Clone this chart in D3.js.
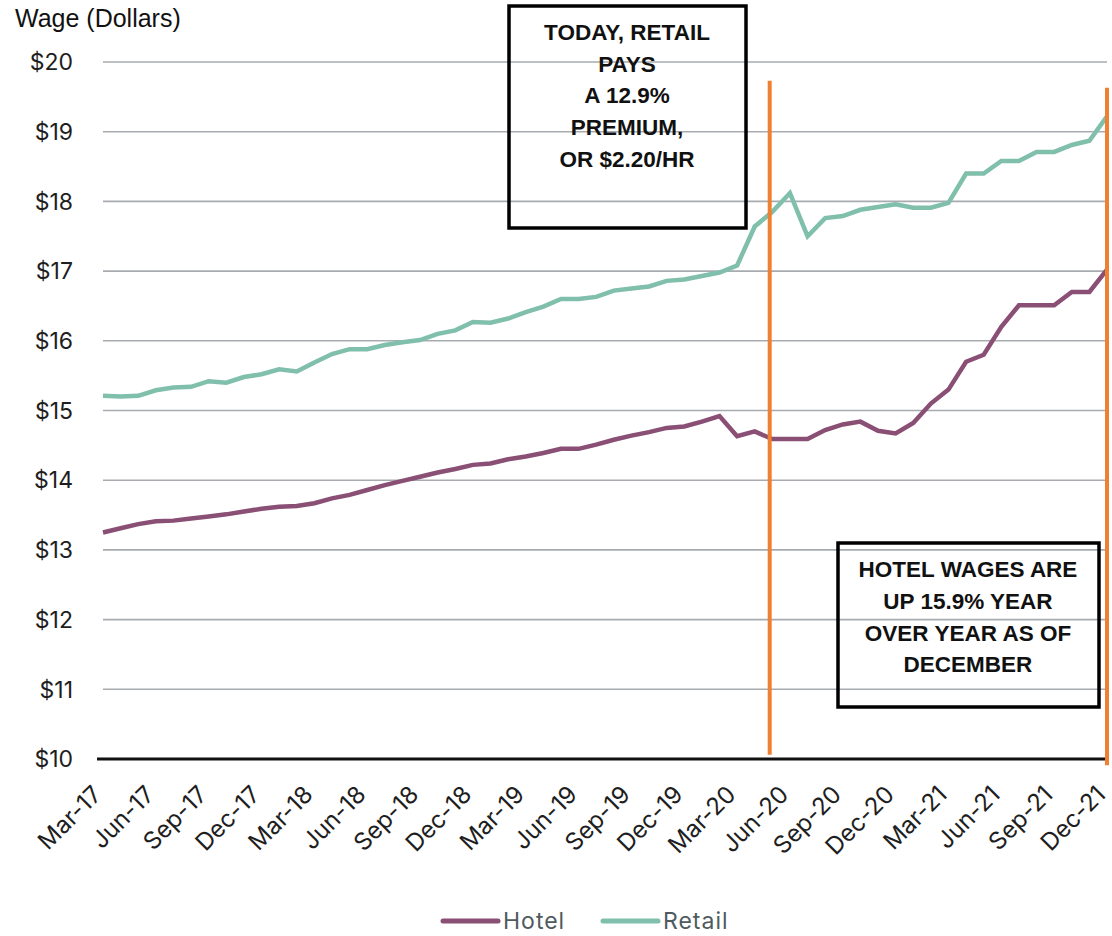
<!DOCTYPE html>
<html>
<head>
<meta charset="utf-8">
<script src="https://cdn.jsdelivr.net/npm/d3@7"></script>
<style>
  html, body { margin: 0; padding: 0; background: #fff; }
  svg { display: block; }
</style>
</head>
<body>
<svg id="chart" width="1112" height="936"></svg>
<script>
// ---- data ----
const startMonth = new Date(2017, 2, 1);   // Mar 2017
const endMonth = new Date(2022, 0, 1);     // exclusive (Dec 2021 last)
const months = d3.timeMonths(startMonth, endMonth);

const hotel = [
  13.25, 13.31, 13.37, 13.41, 13.42, 13.45, 13.48, 13.51, 13.55, 13.59,
  13.62, 13.63, 13.67, 13.74, 13.79, 13.86, 13.93, 13.99, 14.05, 14.11,
  14.16, 14.22, 14.24, 14.30, 14.34, 14.39, 14.45, 14.45, 14.51, 14.58,
  14.64, 14.69, 14.75, 14.77, 14.84, 14.92, 14.63, 14.70, 14.59, 14.59,
  14.59, 14.72, 14.80, 14.84, 14.71, 14.67, 14.82, 15.10, 15.30, 15.70,
  15.80, 16.20, 16.51, 16.51, 16.51, 16.70, 16.70, 17.02
];
const retail = [
  15.21, 15.20, 15.21, 15.29, 15.33, 15.34, 15.42, 15.40, 15.48, 15.52,
  15.59, 15.56, 15.69, 15.81, 15.88, 15.88, 15.94, 15.98, 16.01, 16.10,
  16.15, 16.27, 16.26, 16.32, 16.41, 16.49, 16.60, 16.60, 16.63, 16.72,
  16.75, 16.78, 16.86, 16.88, 16.93, 16.98, 17.08, 17.64, 17.85, 18.12,
  17.50, 17.76, 17.79, 17.88, 17.92, 17.96, 17.91, 17.91, 17.98, 18.40,
  18.40, 18.58, 18.58, 18.71, 18.71, 18.81, 18.87, 19.22
];
const seriesNames = ["Hotel", "Retail"];
const yTicks = [10, 11, 12, 13, 14, 15, 16, 17, 18, 19, 20];
const xTickLabels = ["Mar-17","Jun-17","Sep-17","Dec-17","Mar-18","Jun-18","Sep-18","Dec-18",
  "Mar-19","Jun-19","Sep-19","Dec-19","Mar-20","Jun-20","Sep-20","Dec-20",
  "Mar-21","Jun-21","Sep-21","Dec-21"];
const yAxisTitle = "Wage (Dollars)";
// vertical marker lines: position in month index, span in dollars
const markerAt = [37.85, 57];
const markerFrom = [10.06, 9.91];
const markerTo = [19.73, 19.63];
const note1 = ["TODAY, RETAIL", "PAYS", "A 12.9%", "PREMIUM,", "OR $2.20/HR"];
const note2 = ["HOTEL WAGES ARE", "UP 15.9% YEAR", "OVER YEAR AS OF", "DECEMBER"];

// ---- styles ----
const colors = { Hotel: "#8a4f74", Retail: "#80bfab" };
const orange = "#ef7f31";
const tickFont = "Inter, 'Noto Sans', sans-serif";

const svg = d3.select("#chart");
const x = d3.scaleLinear().domain([0, months.length - 1]).range([103, 1107]);
const y = d3.scaleLinear().domain([10, 20]).range([759, 62]);

// gridlines
svg.append("g").selectAll("line")
  .data(yTicks.filter(d => d > 10))
  .join("line")
  .attr("x1", x(0)).attr("x2", x(months.length - 1))
  .attr("y1", d => y(d)).attr("y2", d => y(d))
  .attr("stroke", "#a7abaf").attr("stroke-width", 1.6);

// baseline axis
svg.append("line")
  .attr("x1", 97).attr("x2", x(months.length - 1))
  .attr("y1", y(10)).attr("y2", y(10))
  .attr("stroke", "#111").attr("stroke-width", 3);

// y tick labels
svg.append("g").selectAll("text")
  .data(yTicks)
  .join("text")
  .attr("x", 73).attr("y", d => y(d)).attr("dy", "0.36em")
  .attr("text-anchor", "end")
  .attr("font-family", tickFont).attr("font-size", 23)
  .attr("fill", "#1e1e1e")
  .text(d => "$" + d);

// y axis title
svg.append("text")
  .attr("x", 15).attr("y", 27)
  .attr("font-family", "'Liberation Sans', Arial, sans-serif")
  .attr("font-size", 25).attr("fill", "#111")
  .text(yAxisTitle);

// x tick labels every 3 months
const xTickIdx = d3.range(0, months.length, 3);
svg.append("g").selectAll("text")
  .data(xTickIdx)
  .join("text")
  .attr("transform", d => `translate(${x(d)},${796}) rotate(-45)`)
  .attr("text-anchor", "end")
  .attr("font-family", tickFont).attr("font-size", 24)
  .attr("fill", "#1e1e1e")
  .text((d, i) => xTickLabels[i]);

// lines
const line = d3.line().x((d, i) => x(i)).y(d => y(d));
[hotel, retail].forEach((vals, k) => {
  svg.append("path")
    .datum(vals)
    .attr("d", line)
    .attr("fill", "none")
    .attr("stroke", colors[seriesNames[k]])
    .attr("stroke-width", 4.5)
    .attr("stroke-linejoin", "miter");
});

// orange markers
svg.append("g").selectAll("line")
  .data(markerAt)
  .join("line")
  .attr("x1", d => x(d)).attr("x2", d => x(d))
  .attr("y1", (d, i) => y(markerTo[i])).attr("y2", (d, i) => y(markerFrom[i]))
  .attr("stroke", orange).attr("stroke-width", 4);

// annotation boxes
function noteBox(lines, bx, by, bw, bh, cx, firstBase, step) {
  const g = svg.append("g");
  g.append("rect").attr("x", bx).attr("y", by).attr("width", bw).attr("height", bh)
    .attr("fill", "none").attr("stroke", "#000").attr("stroke-width", 3.5);
  g.selectAll("text").data(lines).join("text")
    .attr("x", cx).attr("y", (d, i) => firstBase + i * step)
    .attr("text-anchor", "middle")
    .attr("font-family", "'Liberation Sans', Arial, sans-serif")
    .attr("font-weight", 700).attr("font-size", 22.5)
    .attr("fill", "#111")
    .text(d => d);
}
noteBox(note1, 509, 6, 237, 222, 627, 40, 31.7);
noteBox(note2, 838, 543, 261, 164, 968, 577, 31.8);

// legend
const legend = svg.append("g");
const legendX = [443, 603];
seriesNames.forEach((name, i) => {
  legend.append("line")
    .attr("x1", legendX[i]).attr("x2", legendX[i] + 55)
    .attr("y1", 921).attr("y2", 921)
    .attr("stroke", colors[name]).attr("stroke-width", 5)
    .attr("stroke-linecap", "round");
  legend.append("text")
    .attr("x", legendX[i] + 60).attr("y", 929)
    .attr("font-family", tickFont).attr("font-size", 23)
    .attr("letter-spacing", 1)
    .attr("fill", "#4f5b5f")
    .text(name);
});
</script>
</body>
</html>
